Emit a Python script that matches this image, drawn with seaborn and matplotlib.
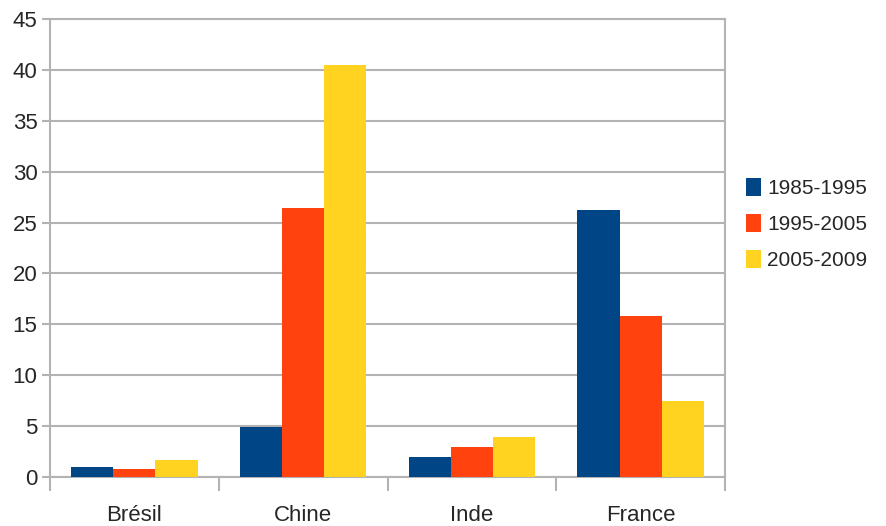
import pandas as pd
import seaborn as sns
import matplotlib.pyplot as plt
from matplotlib.patches import Patch

# Data
pays = ['Brésil', 'Chine', 'Inde', 'France']
periodes = ['1985-1995', '1995-2005', '2005-2009']
v_1985_1995 = [1.0, 4.9, 2.0, 26.2]
v_1995_2005 = [0.8, 26.4, 3.0, 15.8]
v_2005_2009 = [1.7, 40.5, 3.9, 7.5]
couleurs = ['#004586', '#ff420e', '#ffd320']

df = pd.DataFrame({
    'pays': pays * 3,
    'periode': [periodes[0]] * 4 + [periodes[1]] * 4 + [periodes[2]] * 4,
    'valeur': v_1985_1995 + v_1995_2005 + v_2005_2009,
})

sns.set_style('white')
plt.rcParams['font.family'] = ['Liberation Sans Narrow', 'Liberation Sans', 'DejaVu Sans']

fig = plt.figure(figsize=(8.87, 5.26), dpi=100)
ax = fig.add_axes([0.0564, 0.093, 0.761, 0.871])

sns.barplot(data=df, x='pays', y='valeur', hue='periode', order=pays,
            hue_order=periodes, palette=couleurs, width=0.75, saturation=1,
            edgecolor='none', legend=False, ax=ax, zorder=3)

gris = '#b3b3b3'
ax.set_ylim(0, 45)
ax.set_xlim(-0.5, 3.5)
ax.set_yticks(range(0, 46, 5))
ax.yaxis.grid(True, color=gris, linewidth=1.5, zorder=0)
ax.set_axisbelow(True)
for s in ax.spines.values():
    s.set_color(gris)
    s.set_linewidth(1.5)

# group separators as major ticks, labels on minor ticks
ax.set_xticks([-0.5, 0.5, 1.5, 2.5, 3.5])
ax.set_xticklabels([])
ax.set_xticks(range(len(pays)), minor=True)
ax.set_xticklabels(pays, minor=True)
ax.tick_params(axis='x', which='major', length=10, width=1.5, color=gris, direction='out', bottom=True)
ax.tick_params(axis='x', which='minor', length=0, labelsize=16, pad=20)
ax.tick_params(axis='y', length=6, width=1.5, color=gris, direction='out', left=True, labelsize=16, pad=3)
ax.set_xlabel('')
ax.set_ylabel('')

handles = [Patch(facecolor=c, edgecolor='none') for c in couleurs]
fig.legend(handles, periodes, loc='upper left', bbox_to_anchor=(0.820, 0.698),
           frameon=False, fontsize=15, handlelength=0.7, handleheight=1.0,
           handletextpad=0.3, labelspacing=0.75)

fig.savefig('out.png', dpi=100)
